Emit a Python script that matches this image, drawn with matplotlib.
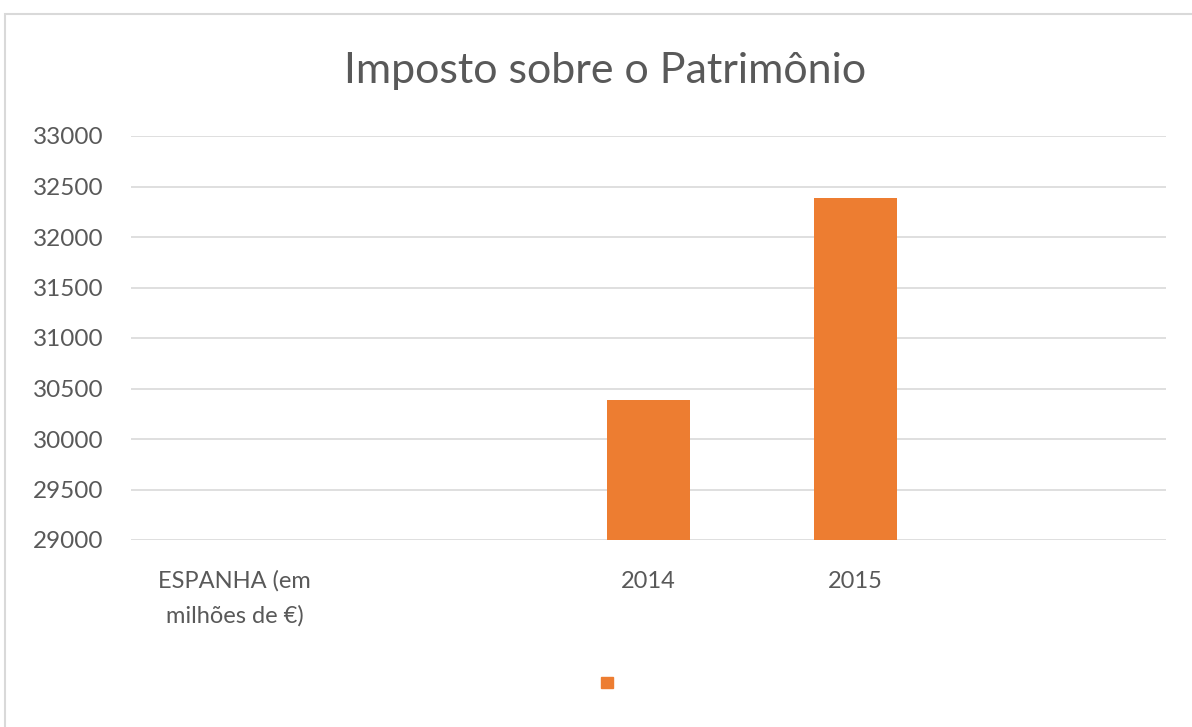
import matplotlib.pyplot as plt
from matplotlib.patches import Rectangle, Patch

# chart data
categorias = ['ESPANHA (em\nmilhões de €)', '', '2014', '2015', '']
valores = [0, 0, 30390, 32390, 0]
anos_ok = [False, False, True, True, False]
y_ticks = [29000, 29500, 30000, 30500, 31000, 31500, 32000, 32500, 33000]
titulo = 'Imposto sobre o Patrimônio'

laranja = '#ED7D31'
cinza = '#595959'

plt.rcParams['font.family'] = ['Lato', 'DejaVu Sans']

fig = plt.figure(figsize=(11.92, 7.27), dpi=100)
ax = fig.add_axes([131/1192, 1 - 540/727, 1035/1192, 404/727])

x = list(range(len(categorias)))
alturas = [v if ok else 0 for v, ok in zip(valores, anos_ok)]
ax.bar(x, alturas, width=0.4, color=laranja, zorder=3)

ax.set_xlim(-0.5, len(categorias) - 0.5)
ax.set_ylim(29000, 33000)
ax.set_yticks(y_ticks)
ax.set_yticklabels([str(t) for t in y_ticks], fontsize=17.5, color=cinza)
ax.set_xticks(x)
ax.set_xticklabels(categorias, fontsize=17, color=cinza, va='top', linespacing=1.75)
ax.tick_params(axis='both', length=0)
ax.tick_params(axis='y', pad=20)
ax.tick_params(axis='x', pad=22)
ax.yaxis.grid(True, color='#d9d9d9', linewidth=1.2, zorder=0)
for s in ax.spines.values():
    s.set_visible(False)

fig.text(605/1192, 1 - 71/727, titulo, ha='center', va='center',
         fontsize=31, color=cinza)

leg = fig.legend(handles=[Patch(color=laranja, label='')], loc='center',
                 bbox_to_anchor=(607/1192, 1 - 683/727), frameon=False,
                 handlelength=0.85, handleheight=0.85, handletextpad=0)

# outer frame
fig.patches.append(Rectangle((5/1192, -0.01), 1.02, 1 - 14/727 + 0.01,
                             transform=fig.transFigure, fill=False,
                             edgecolor='#d9d9d9', linewidth=1.5))

fig.savefig('out.png', dpi=100)
